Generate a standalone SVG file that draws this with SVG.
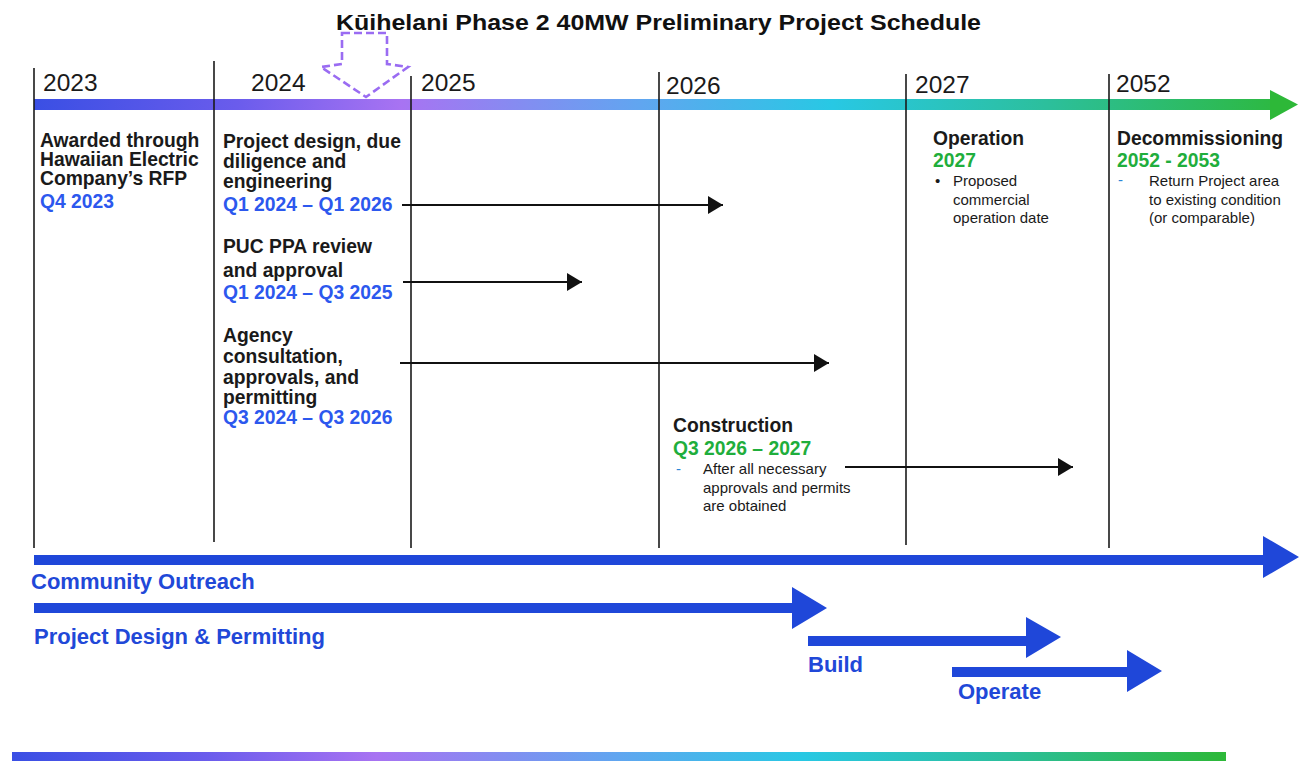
<svg xmlns="http://www.w3.org/2000/svg" width="1304" height="761" viewBox="0 0 1304 761">
<defs>
<style>
text{font-family:"Liberation Sans",Arial,sans-serif}
.title{font-size:22px;font-weight:bold;fill:#111}
.yr{font-size:24.5px;fill:#1a1a1a}
.h{font-size:19.3px;font-weight:bold;fill:#1a1a1a}
.blue{font-size:19.3px;font-weight:bold;fill:#2c58ee}
.green{font-size:19.3px;font-weight:bold;fill:#1fae3c}
.sm{font-size:15px;fill:#1a1a1a}
.lbl{font-size:22px;font-weight:bold;fill:#2148d8}
.vline{stroke:#1a1a1a;stroke-width:1.6}
.conn{stroke:#111;stroke-width:2;fill:none}
.band{fill:#1f47d9}
</style>
<linearGradient id="tl" gradientUnits="userSpaceOnUse" x1="34" y1="0" x2="1300" y2="0">
<stop offset="0" stop-color="#3a4fe4"/>
<stop offset="0.16" stop-color="#6a5cec"/>
<stop offset="0.29" stop-color="#a873f2"/>
<stop offset="0.48" stop-color="#60a6f0"/>
<stop offset="0.63" stop-color="#28c8e4"/>
<stop offset="0.8" stop-color="#2cbf9c"/>
<stop offset="1" stop-color="#2db838"/>
</linearGradient>
<linearGradient id="bt" gradientUnits="userSpaceOnUse" x1="12" y1="0" x2="1226" y2="0">
<stop offset="0" stop-color="#3a4fe4"/>
<stop offset="0.16" stop-color="#6a5cec"/>
<stop offset="0.3" stop-color="#a873f2"/>
<stop offset="0.5" stop-color="#60a6f0"/>
<stop offset="0.65" stop-color="#28c8e4"/>
<stop offset="0.82" stop-color="#2cbf9c"/>
<stop offset="1" stop-color="#2db838"/>
</linearGradient>
<marker id="ah" viewBox="0 0 10 10" refX="10" refY="5" markerWidth="15" markerHeight="18" markerUnits="userSpaceOnUse" orient="auto" preserveAspectRatio="none">
<path d="M0,0 L10,5 L0,10 Z" fill="#111"/>
</marker>
</defs>
<rect width="1304" height="761" fill="#fff"/>

<text class="title" x="336" y="30" textLength="645" lengthAdjust="spacingAndGlyphs">Kūihelani Phase 2 40MW Preliminary Project Schedule</text>

<g id="timeline">
<rect x="34" y="99" width="1236" height="11" fill="url(#tl)"/>
<path d="M1270,90 L1298,104.5 L1270,120 Z" fill="#2db838"/>
</g>

<g id="marker-now">
<path d="M342,33 H387 V64 L408,67 L366,97 L321,67 L342,64 Z" fill="none" stroke="#9a6cf2" stroke-width="2.6" stroke-dasharray="8,4"/>
</g>

<g id="year-lines">
<line class="vline" x1="34" y1="68" x2="34" y2="548"/>
<line class="vline" x1="214" y1="61" x2="214" y2="542"/>
<line class="vline" x1="411" y1="76" x2="411" y2="548"/>
<line class="vline" x1="659" y1="72" x2="659" y2="548"/>
<line class="vline" x1="906" y1="74" x2="906" y2="545"/>
<line class="vline" x1="1109" y1="74" x2="1109" y2="548"/>
</g>

<g id="years">
<text class="yr" x="43" y="91">2023</text>
<text class="yr" x="251" y="91">2024</text>
<text class="yr" x="421" y="91">2025</text>
<text class="yr" x="666" y="94">2026</text>
<text class="yr" x="915" y="93">2027</text>
<text class="yr" x="1116" y="92">2052</text>
</g>

<g id="awarded">
<text class="h" x="40" y="147">Awarded through</text>
<text class="h" x="40" y="166">Hawaiian Electric</text>
<text class="h" x="40" y="185">Company’s RFP</text>
<text class="blue" x="40" y="208">Q4 2023</text>
</g>

<g id="design">
<text class="h" x="223" y="148">Project design, due</text>
<text class="h" x="223" y="168">diligence and</text>
<text class="h" x="223" y="188">engineering</text>
<text class="blue" x="223" y="211">Q1 2024 – Q1 2026</text>
</g>

<g id="puc">
<text class="h" x="223" y="253">PUC PPA review</text>
<text class="h" x="223" y="277">and approval</text>
<text class="blue" x="223" y="299">Q1 2024 – Q3 2025</text>
</g>

<g id="agency">
<text class="h" x="223" y="342">Agency</text>
<text class="h" x="223" y="363">consultation,</text>
<text class="h" x="223" y="384">approvals, and</text>
<text class="h" x="223" y="404">permitting</text>
<text class="blue" x="223" y="424">Q3 2024 – Q3 2026</text>
</g>

<g id="operation">
<text class="h" x="933" y="145">Operation</text>
<text class="green" x="933" y="167">2027</text>
<text class="sm" x="935" y="186">•</text>
<text class="sm" x="953" y="186">Proposed</text>
<text class="sm" x="953" y="205">commercial</text>
<text class="sm" x="953" y="223">operation date</text>
</g>

<g id="decommissioning">
<text class="h" x="1117" y="145">Decommissioning</text>
<text class="green" x="1117" y="167">2052 - 2053</text>
<text class="sm" x="1118" y="185" style="fill:#2a86d6">-</text>
<text class="sm" x="1149" y="186">Return Project area</text>
<text class="sm" x="1149" y="205">to existing condition</text>
<text class="sm" x="1149" y="223">(or comparable)</text>
</g>

<g id="construction">
<text class="h" x="673" y="432">Construction</text>
<text class="green" x="673" y="455">Q3 2026 – 2027</text>
<text class="sm" x="676" y="474" style="fill:#2a86d6">-</text>
<text class="sm" x="703" y="474">After all necessary</text>
<text class="sm" x="703" y="493">approvals and permits</text>
<text class="sm" x="703" y="511">are obtained</text>
</g>

<g id="connectors">
<line class="conn" x1="402" y1="205" x2="723" y2="205" marker-end="url(#ah)"/>
<line class="conn" x1="403" y1="282" x2="582" y2="282" marker-end="url(#ah)"/>
<line class="conn" x1="400" y1="363" x2="829" y2="363" marker-end="url(#ah)"/>
<line class="conn" x1="845" y1="467" x2="1073" y2="467" marker-end="url(#ah)"/>
</g>

<g id="community-outreach">
<path class="band" d="M34,555 H1263 V536 L1299,557 L1263,578 V565 H34 Z"/>
<text class="lbl" x="31" y="589">Community Outreach</text>
</g>

<g id="project-design-permitting">
<path class="band" d="M34,603 H792 V587 L827,608 L792,629 V613 H34 Z"/>
<text class="lbl" x="34" y="644">Project Design &amp; Permitting</text>
</g>

<g id="build">
<path class="band" d="M808,636 H1026 V617 L1061,637 L1026,658 V646 H808 Z"/>
<text class="lbl" x="808" y="672">Build</text>
</g>

<g id="operate">
<path class="band" d="M952,667 H1127 V650 L1162,671 L1127,692 V677 H952 Z"/>
<text class="lbl" x="958" y="699">Operate</text>
</g>

<g id="bottom-bar">
<rect x="12" y="752" width="1214" height="9" fill="url(#bt)"/>
</g>
</svg>
